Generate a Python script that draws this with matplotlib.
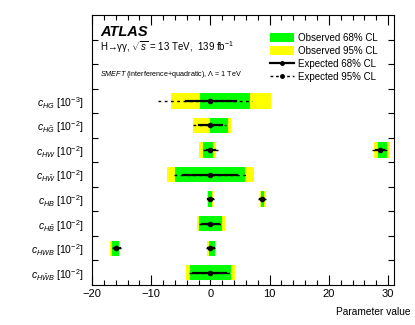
import matplotlib
matplotlib.use("Agg")
import matplotlib.pyplot as plt
from matplotlib.patches import Patch
from matplotlib.lines import Line2D
from matplotlib.ticker import MultipleLocator, FixedLocator

plt.rcParams['font.family'] = ['Liberation Sans', 'DejaVu Sans']
plt.rcParams['mathtext.fontset'] = 'custom'
plt.rcParams['mathtext.rm'] = 'Liberation Sans'
plt.rcParams['mathtext.it'] = 'Liberation Sans:italic'
plt.rcParams['mathtext.bf'] = 'Liberation Sans:bold'

# ---- data (rows from top to bottom) ----
labels = [r'$c_{HG}$ [10$^{-3}$]', r'$c_{H\tilde{G}}$ [10$^{-2}$]',
          r'$c_{HW}$ [10$^{-2}$]', r'$c_{H\tilde{W}}$ [10$^{-2}$]',
          r'$c_{HB}$ [10$^{-2}$]', r'$c_{H\tilde{B}}$ [10$^{-2}$]',
          r'$c_{HWB}$ [10$^{-2}$]', r'$c_{H\tilde{W}B}$ [10$^{-2}$]']
obs95 = [[(-6.6, 10.3)], [(-3.0, 3.5)], [(-1.9, 1.0), (27.6, 30.4)], [(-7.4, 7.4)],
         [(-0.55, 0.4), (8.3, 9.3)], [(-2.2, 2.4)], [(-16.9, -15.2), (-0.55, 1.0)], [(-4.2, 4.2)]]
obs68 = [[(-1.7, 6.6)], [(0.0, 2.9)], [(-1.2, 0.35), (28.3, 29.8)], [(-5.9, 5.9)],
         [(-0.4, 0.2), (8.5, 9.1)], [(-1.9, 1.9)], [(-16.6, -15.5), (-0.3, 0.7)], [(-3.5, 3.4)]]
exp_center = [[0.0], [0.0], [0.0, 28.7], [0.0], [0.0, 8.7], [0.0], [-16.0, 0.0], [0.0]]
exp68 = [[(-4.2, 4.4)], [(-2.0, 2.0)], [(-0.6, 0.7), (28.0, 29.3)], [(-4.6, 4.5)],
         [(-0.4, 0.4), (8.3, 9.1)], [(-1.4, 1.4)], [(-16.3, -15.3), (-0.45, 0.55)], [(-2.9, 2.7)]]
exp95 = [[(-8.8, 7.1)], [(-2.9, 2.7)], [(-1.3, 1.2), (27.3, 29.8)], [(-6.2, 6.2)],
         [(-0.6, 0.6), (8.1, 9.3)], [(-1.9, 2.1)], [(-16.6, -15.0), (-0.7, 0.8)], [(-3.7, 3.5)]]

YELLOW = '#ffff00'
GREEN = '#00ff00'

fig = plt.figure(figsize=(4.15, 3.25), dpi=100)
ax = fig.add_axes([92/415, 40/325, 302/415, 270/325])

n = len(labels)
ypos = [n - 0.5 - i for i in range(n)]

for i, y in enumerate(ypos):
    for lo, hi in obs95[i]:
        ax.barh(y, hi - lo, left=lo, height=0.62, color=YELLOW, linewidth=0, zorder=1)
    for lo, hi in obs68[i]:
        ax.barh(y, hi - lo, left=lo, height=0.62, color=GREEN, linewidth=0, zorder=2)
    for lo, hi in exp95[i]:
        ax.plot([lo, hi], [y, y], color='black', lw=1.0, ls=(0, (2, 2.5)), zorder=3)
    for lo, hi in exp68[i]:
        ax.plot([lo, hi], [y, y], color='black', lw=1.6, ls='-', zorder=4)
    ax.plot(exp_center[i], [y] * len(exp_center[i]), 'o', color='black', ms=3, zorder=5)

ax.set_xlim(-20, 31)
ax.set_ylim(0, 11)

ax.xaxis.set_major_locator(MultipleLocator(10))
ax.xaxis.set_minor_locator(MultipleLocator(2))
ax.yaxis.set_major_locator(FixedLocator(ypos))
ax.yaxis.set_minor_locator(FixedLocator(list(range(1, 11))))
ax.set_yticklabels(labels)
ax.tick_params(axis='x', which='both', direction='in', top=True, bottom=True, labelsize=8, pad=3)
ax.tick_params(axis='x', which='major', length=7, width=0.8)
ax.tick_params(axis='x', which='minor', length=3.5, width=0.8)
ax.tick_params(axis='y', which='major', length=0, labelsize=7.5, pad=6)
ax.tick_params(axis='y', which='minor', direction='in', left=True, right=True, length=4, width=0.8)
for sp in ax.spines.values():
    sp.set_linewidth(0.8)

ax.set_xlabel('Parameter value', fontsize=7.3, ha='right')
ax.xaxis.set_label_coords(1.056, -0.083)

ax.text(0.026, 0.922, 'ATLAS', transform=ax.transAxes, fontsize=10.5,
        fontweight='bold', fontstyle='italic')
ax.text(0.026, 0.867, 'H\u2192\u03b3\u03b3, ' + r'$\sqrt{s}$ = 13 TeV,  139 fb$^{-1}$',
        transform=ax.transAxes, fontsize=7)
ax.text(0.026, 0.775, r'$SMEFT$ (interference+quadratic), $\Lambda$ = 1 TeV',
        transform=ax.transAxes, fontsize=5.2)

handles = [Patch(facecolor=GREEN, edgecolor='none'),
           Patch(facecolor=YELLOW, edgecolor='none'),
           Line2D([0], [0], color='black', lw=1.6, marker='o', ms=2.5),
           Line2D([0], [0], color='black', lw=1.0, ls=(0, (2, 2)), marker='o', ms=2.5)]
leg_labels = ['Observed 68% CL', 'Observed 95% CL', 'Expected 68% CL', 'Expected 95% CL']
ax.legend(handles, leg_labels, loc='upper left', bbox_to_anchor=(0.589, 0.935),
          frameon=False, fontsize=7, borderpad=0, borderaxespad=0,
          handlelength=2.45, handleheight=1.0, handletextpad=0.45, labelspacing=0.32)

fig.savefig('out.png', dpi=100)
